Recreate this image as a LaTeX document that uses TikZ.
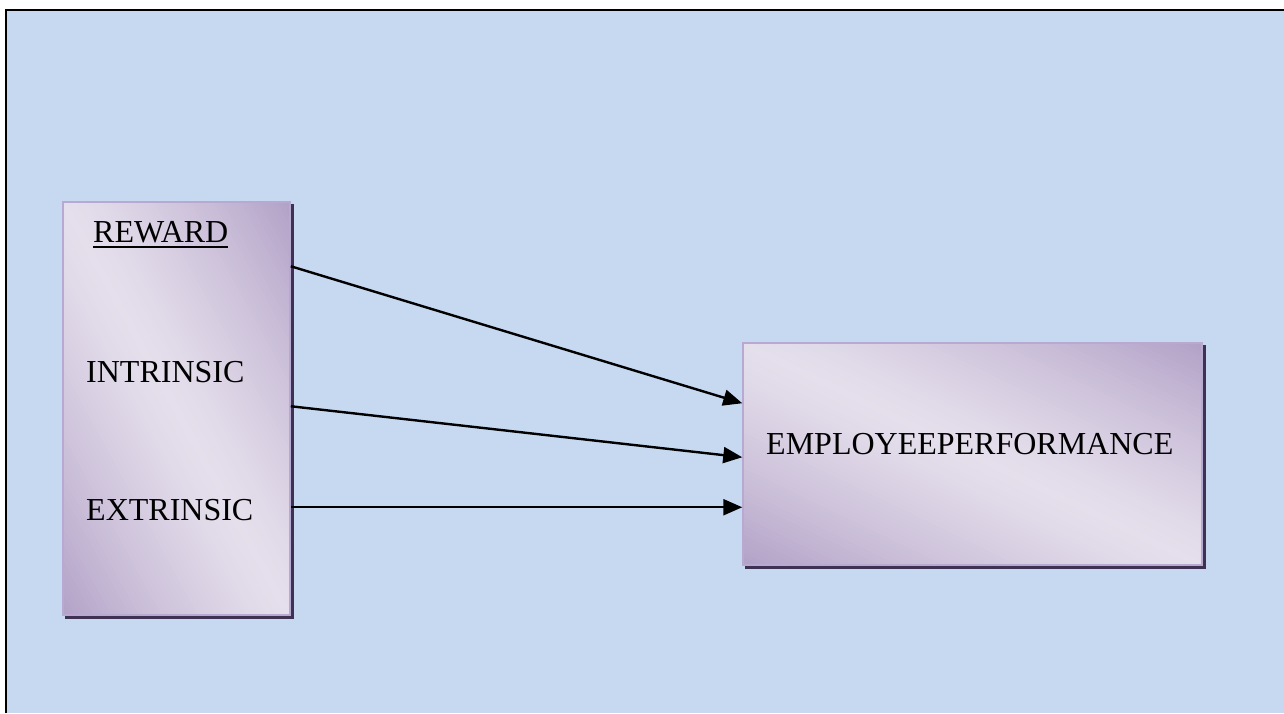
\documentclass[tikz,border=0pt]{standalone}
\usepackage{fontspec}
\setmainfont{Liberation Serif}
\usetikzlibrary{arrows.meta,calc}
\definecolor{bgblue}{HTML}{C6D9F1}
\definecolor{dkpur}{HTML}{B2A1C7}
\definecolor{ltpur}{HTML}{E5DFEC}
\definecolor{shadowpur}{HTML}{3F3151}
\definecolor{edgepur}{HTML}{B8A9D3}
\pgfdeclarelayer{back}
\pgfdeclarelayer{bg}
\pgfsetlayers{back,bg,main}
\newcommand\myul[1]{\leavevmode\vtop{\hbox{#1}\kern2.5pt\hrule height 2pt depth 0pt}}
\newcommand\mygrad[2]{%
  \fill[shadowpur] ($(#1.south west)+(3,-3)$) rectangle ($(#1.north east)+(3,-3)$);
  \begin{scope}
    \clip (#1.south west) rectangle (#1.north east);
    \begin{scope}[shift={(#1.center)}, rotate=#2]
      \fill[dkpur] (-600,-600) rectangle (600,600);
      \foreach \i in {0,...,99}{
        \pgfmathsetmacro\xa{-200+4*\i-0.4}
        \pgfmathsetmacro\xb{-200+4*\i+4.4}
        \pgfmathsetmacro\pp{(abs(-1+(2*\i+1)/100))^1.3*100}
        \fill[dkpur!\pp!ltpur] (\xa,-600) rectangle (\xb,600);
      }
    \end{scope}
  \end{scope}}
\tikzset{
  gradbox/.style={draw=edgepur, line width=1.5pt, inner sep=0pt},
  lbl/.style={font=\fontsize{32}{38}\selectfont, inner sep=0pt, anchor=base west, text=black},
  conn/.style={line width=2.4pt, -{Triangle[length=19pt,width=16pt]}}
}
\begin{document}
\begin{tikzpicture}[x=1pt,y=1pt]
  \useasboundingbox (0,0) rectangle (1284,713);
  \begin{pgfonlayer}{back}
    \fill[white] (0,0) rectangle (1284,713);
    \fill[bgblue] (6,0) rectangle (1284,703);
    \draw[line width=2.5pt] (6,0) -- (6,703) -- (1284,703);
  \end{pgfonlayer}

  \node[gradbox, minimum width=227pt, minimum height=413pt] (reward) at (176.5,304.5) {};
  \node[gradbox, minimum width=459pt, minimum height=222pt] (perf) at (972.5,259) {};

  \begin{pgfonlayer}{bg}
    \mygrad{reward}{28.7}
    \mygrad{perf}{64.2}
  \end{pgfonlayer}

  \node[lbl] (rw) at (93,470) {\myul{REWARD}};
  \node[lbl] (intr) at (86,331) {INTRINSIC};
  \node[lbl] (extr) at (86,193) {EXTRINSIC};
  \node[lbl] (emp) at (766,259) {EMPLOYEEPERFORMANCE};

  \coordinate (s1) at ($(reward.north east)+(0,-65)$);
  \coordinate (s2) at ($(reward.north east)+(0,-205)$);
  \coordinate (s3) at ($(reward.north east)+(0,-306)$);
  \coordinate (t1) at ($(perf.north west)+(0,-61)$);
  \coordinate (t2) at ($(perf.north west)+(0,-115)$);
  \coordinate (t3) at ($(perf.north west)+(0,-165)$);

  \draw[conn] (s1) -- (t1);
  \draw[conn] (s2) -- (t2);
  \draw[conn] (s3) -- (t3);
\end{tikzpicture}
\end{document}
